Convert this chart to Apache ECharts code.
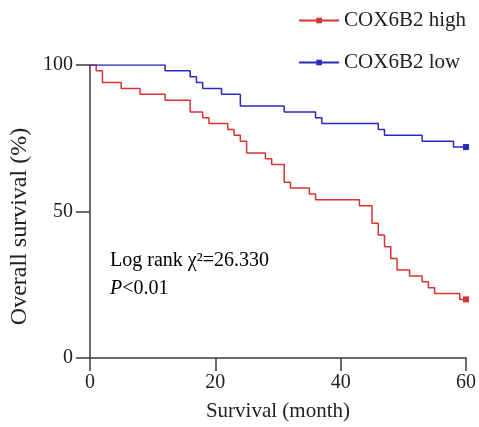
<!DOCTYPE html>
<html>
<head>
<meta charset="utf-8">
<script src="https://cdn.jsdelivr.net/npm/echarts@6/dist/echarts.min.js"></script>
<style>
  html, body { margin: 0; padding: 0; background: #fff; }
  #chart { width: 479px; height: 427px; }
</style>
</head>
<body>
<div id="chart"></div>
<script>
// Kaplan-Meier steps (month, survival %)
var highTimes = [0, 1, 2, 5, 8, 12, 16, 18, 19, 22, 23, 24, 25, 28, 29, 31, 32, 35, 36, 43, 45, 46, 47, 48, 49, 51, 53, 54, 55, 59, 60];
var highSurv = [100, 98, 94, 92, 90, 88, 84, 82, 80, 78, 76, 74, 70, 68, 66, 60, 58, 56, 54, 52, 46, 42, 38, 34, 30, 28, 26, 24, 22, 20, 20];
var lowTimes = [0, 12, 16, 17, 18, 21, 24, 31, 36, 37, 46, 47, 53, 58, 60];
var lowSurv = [100, 98, 96, 94, 92, 90, 86, 84, 82, 80, 78, 76, 74, 72, 72];
var seriesNames = ['COX6B2 high', 'COX6B2 low'];
var xTicks = [0, 20, 40, 60];
var yTicks = [0, 50, 100];

var serif = '"Liberation Serif", "Times New Roman", serif';
var axisColor = '#3a3a3a';
var red = '#dc3232';
var blue = '#2a2abf';

// 只在最后一个点画方块
function buildData(times, surv) {
    return times.map(function (t, i) {
        var item = { value: [t, surv[i]] };
        if (i !== times.length - 1) {
            item.symbol = 'none';
        }
        return item;
    });
}

var myChart = echarts.init(document.getElementById('chart'));

var option = {
    animation: false,
    grid: { left: 89, right: 13, top: 65, bottom: 67 },
    legend: {
        orient: 'vertical',
        right: 8,
        top: 5,
        itemWidth: 40,
        itemHeight: 7,
        itemGap: 21,
        textStyle: { fontFamily: serif, fontSize: 21, color: '#222' },
        data: seriesNames
    },
    xAxis: {
        type: 'value',
        min: 0,
        max: 60,
        interval: 20,
        name: 'Survival (month)',
        nameLocation: 'middle',
        nameGap: 43,
        nameTextStyle: { fontFamily: serif, fontSize: 21, color: '#222' },
        axisLine: { lineStyle: { color: axisColor, width: 1.5 } },
        axisTick: { length: 13, lineStyle: { color: axisColor, width: 1.5 } },
        axisLabel: {
            margin: 15,
            fontFamily: serif,
            fontSize: 20,
            color: '#222',
            formatter: function (v) { return xTicks.indexOf(v) > -1 ? v : ''; }
        },
        splitLine: { show: false }
    },
    yAxis: {
        type: 'value',
        min: 0,
        max: 100,
        interval: 50,
        name: 'Overall survival (%)',
        nameLocation: 'middle',
        nameGap: 55,
        nameTextStyle: {
            fontFamily: serif,
            fontSize: 24,
            color: '#222',
            padding: [0, 30, 0, 0]
        },
        axisLine: { show: true, lineStyle: { color: axisColor, width: 1.5 } },
        axisTick: { show: true, length: 14, lineStyle: { color: axisColor, width: 1.5 } },
        axisLabel: {
            margin: 17,
            fontFamily: serif,
            fontSize: 20,
            color: '#222',
            formatter: function (v) { return yTicks.indexOf(v) > -1 ? v : ''; }
        },
        splitLine: { show: false }
    },
    graphic: [{
        type: 'text',
        left: 110,
        top: 251,
        style: {
            text: '{a|Log rank χ²=26.330}\n{i|P}{a|<0.01}',
            rich: {
                a: { fontFamily: serif, fontSize: 20, color: '#222', lineHeight: 28 },
                i: { fontFamily: serif, fontSize: 20, fontStyle: 'italic', color: '#222', lineHeight: 28 }
            }
        }
    }],
    series: [{
        name: seriesNames[0],
        type: 'line',
        step: 'end',
        symbol: 'rect',
        symbolSize: 6,
        color: red,
        lineStyle: { color: red, width: 1.5 },
        itemStyle: { color: red },
        data: buildData(highTimes, highSurv)
    }, {
        name: seriesNames[1],
        type: 'line',
        step: 'end',
        symbol: 'rect',
        symbolSize: 6,
        color: blue,
        lineStyle: { color: blue, width: 1.5 },
        itemStyle: { color: blue },
        data: buildData(lowTimes, lowSurv)
    }]
};

myChart.setOption(option);
window.addEventListener('resize', function () {
    myChart.resize();
});
</script>
</body>
</html>
